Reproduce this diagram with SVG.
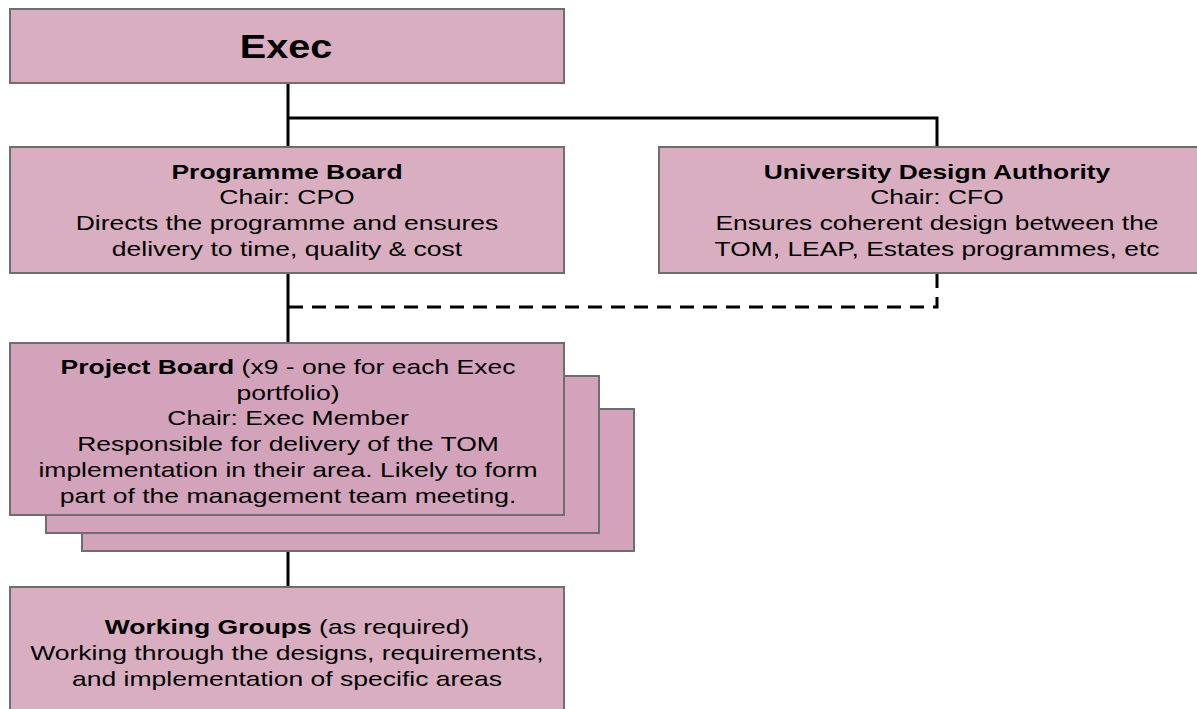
<svg xmlns="http://www.w3.org/2000/svg" width="1197" height="709" viewBox="0 0 1197 709">
<style>
.box{fill:#d8aec0;stroke:#6e6e6e;stroke-width:2}
.pbox{fill:#d3a3bb;stroke:#6e6e6e;stroke-width:2}
text{font-family:"Liberation Sans",Arial,sans-serif;font-size:20px;fill:#000;text-anchor:middle}
.b{font-weight:bold}
.conn{stroke:#000;stroke-width:3;fill:none}
.dash{stroke-dasharray:14,9}
</style>
<rect width="1197" height="709" fill="#fff"/>
<g id="connectors">
<path class="conn" d="M288,84 V146"/>
<path class="conn" d="M288,118 H937 V146"/>
<path class="conn" d="M288,274 V342"/>
<path class="conn dash" d="M937,274 V307 H288"/>
<path class="conn" d="M288,516 V587"/>
</g>
<g id="exec">
<rect class="box" x="10" y="9" width="554" height="74"/>
<g transform="translate(286,0) scale(1.2,1)">
<text x="0" y="58" class="b" style="font-size:33px">Exec</text>
</g>
</g>
<g id="programme-board">
<rect class="box" x="10" y="147" width="554" height="126"/>
<g transform="translate(287,0) scale(1.325,1)">
<text x="0" y="179" class="b">Programme Board</text>
<text x="0" y="204">Chair: CPO</text>
<text x="0" y="230">Directs the programme and ensures</text>
<text x="0" y="256">delivery to time, quality &amp; cost</text>
</g>
</g>
<g id="uda">
<rect class="box" x="659" y="147" width="545" height="126"/>
<g transform="translate(937,0) scale(1.32,1)">
<text x="0" y="179" class="b">University Design Authority</text>
<text x="0" y="204">Chair: CFO</text>
<text x="0" y="230">Ensures coherent design between the</text>
<text x="0" y="256">TOM, LEAP, Estates programmes, etc</text>
</g>
</g>
<g id="project-board">
<rect class="pbox" x="82" y="409" width="552" height="142"/>
<rect class="pbox" x="46" y="376" width="553" height="157"/>
<rect class="pbox" x="10" y="343" width="554" height="172"/>
<g transform="translate(288,0) scale(1.325,1)">
<text x="0" y="374"><tspan class="b">Project Board</tspan> (x9 - one for each Exec</text>
<text x="0" y="400">portfolio)</text>
<text x="0" y="425">Chair: Exec Member</text>
<text x="0" y="451">Responsible for delivery of the TOM</text>
<text x="0" y="477">implementation in their area. Likely to form</text>
<text x="0" y="503">part of the management team meeting.</text>
</g>
</g>
<g id="working-groups">
<rect class="box" x="10" y="587" width="554" height="130"/>
<g transform="translate(287,0) scale(1.325,1)">
<text x="0" y="634"><tspan class="b">Working Groups</tspan> (as required)</text>
<text x="0" y="660">Working through the designs, requirements,</text>
<text x="0" y="686">and implementation of specific areas</text>
</g>
</g>
</svg>
